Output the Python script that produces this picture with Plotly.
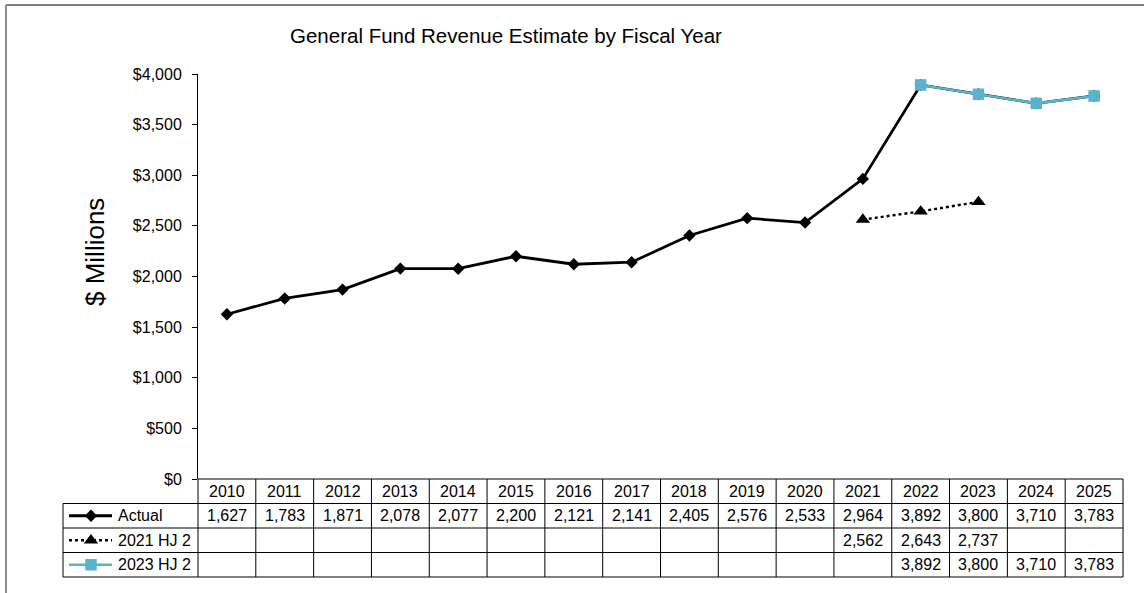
import plotly.graph_objects as go

# ---- data -------------------------------------------------------------
years = [2010, 2011, 2012, 2013, 2014, 2015, 2016, 2017,
         2018, 2019, 2020, 2021, 2022, 2023, 2024, 2025]
actual = [1627, 1783, 1871, 2078, 2077, 2200, 2121, 2141,
          2405, 2576, 2533, 2964, 3892, 3800, 3710, 3783]
hj2_2021 = [None] * 11 + [2562, 2643, 2737, None, None]
hj2_2023 = [None] * 12 + [3892, 3800, 3710, 3783]
series_names = ["Actual", "2021 HJ 2", "2023 HJ 2"]
y_ticks = [0, 500, 1000, 1500, 2000, 2500, 3000, 3500, 4000]
y_tick_text = [f"${v:,}" for v in y_ticks]

# ---- layout constants (figure pixels) ---------------------------------
W, H = 1144, 593
PLOT_L, PLOT_R = 198, 1123
PLOT_T, PLOT_B = 74, 479
ROW_H = 24.5
TABLE_L = 63
col_w = (PLOT_R - PLOT_L) / len(years)

BLUE = "#5AB3CD"
FONT = "Arial, Liberation Sans, sans-serif"

def col_x(i):
    return PLOT_L + (i + 0.5) * col_w

# line / marker styles shared by the chart and the table's key column
styles = [
    (dict(color="black", width=2.8),
     dict(symbol="diamond", size=9.5, color="black")),
    (dict(color="black", width=2.4, dash="dot"),
     dict(symbol="triangle-up", size=12.5, color="black")),
    (dict(color=BLUE, width=2.6),
     dict(symbol="square", size=11.5, color=BLUE)),
]

fig = go.Figure()

# ---- chart series -----------------------------------------------------
for name, vals, (ln, mk) in zip(series_names, [actual, hj2_2021, hj2_2023], styles):
    fig.add_trace(go.Scatter(
        x=years, y=vals, name=name, mode="lines+markers",
        line=ln, marker=mk, cliponaxis=False, showlegend=False))

# ---- data table below the plot ----------------------------------------
shapes = []
line_style = dict(color="black", width=1)
rows_y = [PLOT_B + k * ROW_H for k in range(5)]   # header top .. last row bottom

# horizontal rules
shapes.append(dict(type="line", xref="x2", yref="y2", x0=PLOT_L, x1=PLOT_R,
                   y0=rows_y[0], y1=rows_y[0], line=line_style))
for yy in rows_y[1:]:
    shapes.append(dict(type="line", xref="x2", yref="y2", x0=TABLE_L, x1=PLOT_R,
                       y0=yy, y1=yy, line=line_style))
# vertical rules
for i in range(len(years) + 1):
    xx = PLOT_L + i * col_w
    shapes.append(dict(type="line", xref="x2", yref="y2", x0=xx, x1=xx,
                       y0=rows_y[0], y1=rows_y[4], line=line_style))
shapes.append(dict(type="line", xref="x2", yref="y2", x0=TABLE_L, x1=TABLE_L,
                   y0=rows_y[1], y1=rows_y[4], line=line_style))

# outer chart frame (top and left edges)
shapes.append(dict(type="line", xref="x2", yref="y2", x0=6, x1=W, y0=5, y1=5,
                   line=dict(color="black", width=1.2)))
shapes.append(dict(type="line", xref="x2", yref="y2", x0=6, x1=6, y0=5, y1=H,
                   line=dict(color="#8c8c8c", width=2)))

annotations = []
tfont = dict(family=FONT, size=16, color="black")
for i, yr in enumerate(years):
    annotations.append(dict(xref="x2", yref="y2", x=col_x(i),
                            y=(rows_y[0] + rows_y[1]) / 2, text=str(yr),
                            showarrow=False, font=tfont))
for r, vals in enumerate([actual, hj2_2021, hj2_2023]):
    cy = (rows_y[r + 1] + rows_y[r + 2]) / 2
    for i, v in enumerate(vals):
        if v is None:
            continue
        annotations.append(dict(xref="x2", yref="y2", x=col_x(i), y=cy,
                                text=f"{v:,}", showarrow=False, font=tfont))
    annotations.append(dict(xref="x2", yref="y2", x=116, y=cy, xanchor="left",
                            text=series_names[r], showarrow=False, font=tfont))

# legend keys inside the table's label column
for r, (ln, mk) in enumerate(styles):
    cy = (rows_y[r + 1] + rows_y[r + 2]) / 2
    fig.add_trace(go.Scatter(x=[69, 112], y=[cy, cy], mode="lines", line=ln,
                             xaxis="x2", yaxis="y2", showlegend=False,
                             hoverinfo="skip", cliponaxis=False))
    fig.add_trace(go.Scatter(x=[91], y=[cy], mode="markers", marker=mk,
                             xaxis="x2", yaxis="y2", showlegend=False,
                             hoverinfo="skip", cliponaxis=False))

# titles
annotations.append(dict(xref="x2", yref="y2", x=506, y=35,
                        text="General Fund Revenue Estimate by Fiscal Year",
                        showarrow=False, font=dict(family=FONT, size=20.5, color="black")))
annotations.append(dict(xref="x2", yref="y2", x=95, y=252, textangle=-90,
                        text="$ Millions", showarrow=False,
                        font=dict(family=FONT, size=26, color="black")))

fig.update_layout(
    width=W, height=H, autosize=False,
    margin=dict(l=0, r=0, t=0, b=0, pad=0, autoexpand=False),
    paper_bgcolor="white", plot_bgcolor="rgba(0,0,0,0)",
    showlegend=False,
    xaxis=dict(domain=[PLOT_L / W, PLOT_R / W], range=[years[0] - 0.5, years[-1] + 0.5],
               visible=False, fixedrange=True, automargin=False),
    yaxis=dict(domain=[1 - PLOT_B / H, 1 - PLOT_T / H], range=[0, 4000],
               tickmode="array", tickvals=y_ticks, ticktext=y_tick_text,
               showgrid=False, zeroline=False, showline=True, linecolor="black",
               linewidth=1, ticks="outside", ticklen=5, tickcolor="black",
               ticklabelstandoff=7, automargin=False, fixedrange=True,
               tickfont=dict(family=FONT, size=16, color="black")),
    xaxis2=dict(domain=[0, 1], range=[0, W], visible=False, anchor="y2",
                fixedrange=True, automargin=False),
    yaxis2=dict(domain=[0, 1], range=[H, 0], visible=False, anchor="x2",
                fixedrange=True, automargin=False),
    shapes=shapes, annotations=annotations,
)

fig.write_html("out.html", config={"responsive": False, "displayModeBar": False})
